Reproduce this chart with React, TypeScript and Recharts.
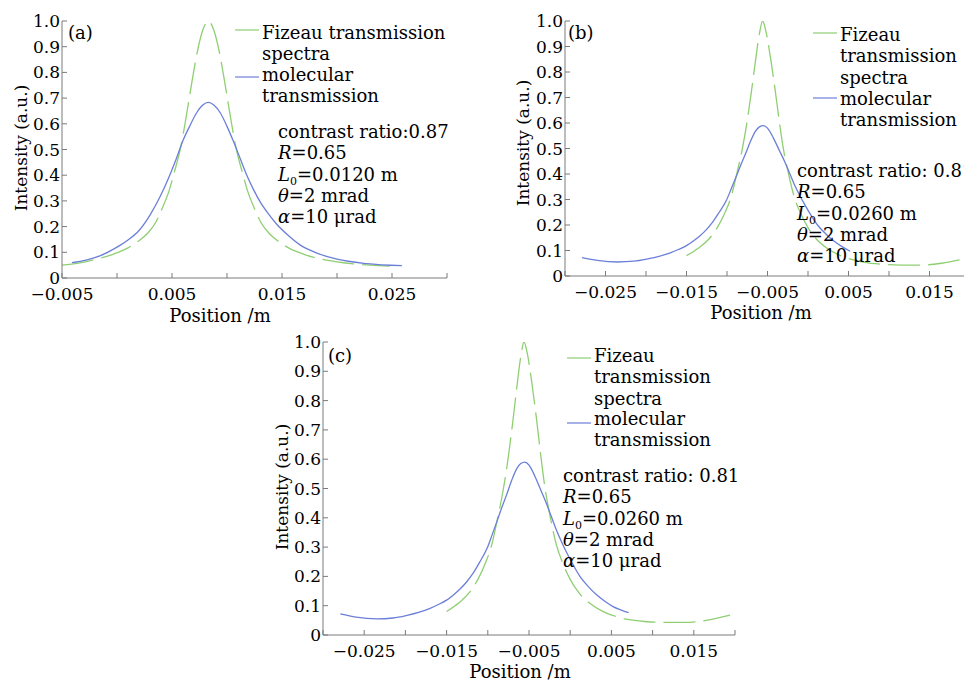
import React from 'react';
import { LineChart, Line, XAxis, YAxis, Legend } from 'recharts';

const FONT = '"DejaVu Serif", "Liberation Serif", serif';
const GREEN = '#8fcf72';
const BLUE = '#6c7fd8';
const FRAME = '#7a7a7a';
const INK = '#000';

// intensity ticks shared by all panels
const yTicks = [0, 0.1, 0.2, 0.3, 0.4, 0.5, 0.6, 0.7, 0.8, 0.9, 1.0];

// panel (a)
const xTicksA = [-0.005, 0, 0.005, 0.01, 0.015, 0.02, 0.025, 0.03];
const xLabelsA = [-0.005, 0.005, 0.015, 0.025];
const fizeauA = [
  { x: -0.005, y: 0.05 }, { x: -0.0035, y: 0.058 }, { x: -0.002, y: 0.072 }, { x: -0.0005, y: 0.09 },
  { x: 0.001, y: 0.117 }, { x: 0.002, y: 0.145 }, { x: 0.0028, y: 0.175 }, { x: 0.0035, y: 0.215 },
  { x: 0.0041, y: 0.27 }, { x: 0.0047, y: 0.335 }, { x: 0.0052, y: 0.41 }, { x: 0.0058, y: 0.51 },
  { x: 0.0063, y: 0.63 }, { x: 0.0068, y: 0.76 }, { x: 0.0073, y: 0.88 }, { x: 0.0078, y: 0.965 },
  { x: 0.0083, y: 1.0 }, { x: 0.0088, y: 0.965 }, { x: 0.0093, y: 0.88 }, { x: 0.0098, y: 0.76 },
  { x: 0.0103, y: 0.63 }, { x: 0.0108, y: 0.51 }, { x: 0.0114, y: 0.41 }, { x: 0.0119, y: 0.335 },
  { x: 0.0125, y: 0.27 }, { x: 0.0131, y: 0.215 }, { x: 0.0138, y: 0.175 }, { x: 0.0146, y: 0.145 },
  { x: 0.0156, y: 0.117 }, { x: 0.017, y: 0.092 }, { x: 0.0185, y: 0.074 }, { x: 0.02, y: 0.063 },
  { x: 0.0215, y: 0.055 }, { x: 0.023, y: 0.05 }, { x: 0.0248, y: 0.046 },
];
const molecularA = [
  { x: -0.0041, y: 0.06 }, { x: -0.0028, y: 0.07 }, { x: -0.0015, y: 0.087 }, { x: 0, y: 0.12 },
  { x: 0.001, y: 0.148 }, { x: 0.002, y: 0.185 }, { x: 0.003, y: 0.245 }, { x: 0.0039, y: 0.315 },
  { x: 0.0047, y: 0.39 }, { x: 0.0054, y: 0.465 }, { x: 0.006, y: 0.535 }, { x: 0.0066, y: 0.59 },
  { x: 0.0072, y: 0.64 }, { x: 0.0078, y: 0.673 }, { x: 0.0083, y: 0.683 }, { x: 0.0088, y: 0.673 },
  { x: 0.0094, y: 0.642 }, { x: 0.01, y: 0.59 }, { x: 0.0106, y: 0.53 }, { x: 0.0112, y: 0.465 },
  { x: 0.0118, y: 0.4 }, { x: 0.0124, y: 0.345 }, { x: 0.013, y: 0.297 }, { x: 0.0137, y: 0.253 },
  { x: 0.0145, y: 0.21 }, { x: 0.0155, y: 0.168 }, { x: 0.0166, y: 0.13 }, { x: 0.018, y: 0.1 },
  { x: 0.02, y: 0.073 }, { x: 0.0227, y: 0.056 }, { x: 0.0259, y: 0.048 },
];

// panels (b) and (c)
const xTicksBC = [-0.03, -0.025, -0.02, -0.015, -0.01, -0.005, 0, 0.005, 0.01, 0.015, 0.02];
const xLabelsBC = [-0.025, -0.015, -0.005, 0.005, 0.015];
const fizeauBC = [
  { x: -0.015, y: 0.08 }, { x: -0.0135, y: 0.11 }, { x: -0.0122, y: 0.146 }, { x: -0.0112, y: 0.19 },
  { x: -0.0103, y: 0.245 }, { x: -0.0095, y: 0.31 }, { x: -0.0088, y: 0.4 }, { x: -0.0081, y: 0.5 },
  { x: -0.0075, y: 0.61 }, { x: -0.007, y: 0.72 }, { x: -0.0065, y: 0.84 }, { x: -0.006, y: 0.95 },
  { x: -0.0056, y: 1.0 }, { x: -0.0052, y: 0.96 }, { x: -0.0047, y: 0.87 }, { x: -0.0041, y: 0.74 },
  { x: -0.0036, y: 0.62 }, { x: -0.0031, y: 0.51 }, { x: -0.0024, y: 0.4 }, { x: -0.0017, y: 0.31 },
  { x: -0.0009, y: 0.245 }, { x: 0, y: 0.19 }, { x: 0.001, y: 0.146 }, { x: 0.0023, y: 0.11 },
  { x: 0.004, y: 0.08 }, { x: 0.0055, y: 0.064 }, { x: 0.007, y: 0.053 }, { x: 0.009, y: 0.046 },
  { x: 0.0115, y: 0.043 }, { x: 0.014, y: 0.043 }, { x: 0.0165, y: 0.05 }, { x: 0.0194, y: 0.068 },
];
const molecularBC = [
  { x: -0.0279, y: 0.072 }, { x: -0.026, y: 0.061 }, { x: -0.0235, y: 0.055 }, { x: -0.0215, y: 0.058 },
  { x: -0.0198, y: 0.067 }, { x: -0.0184, y: 0.077 }, { x: -0.017, y: 0.091 }, { x: -0.016, y: 0.104 },
  { x: -0.015, y: 0.119 }, { x: -0.0142, y: 0.136 }, { x: -0.0134, y: 0.156 }, { x: -0.0126, y: 0.18 },
  { x: -0.0118, y: 0.21 }, { x: -0.011, y: 0.248 }, { x: -0.0101, y: 0.295 }, { x: -0.0095, y: 0.34 },
  { x: -0.0089, y: 0.387 }, { x: -0.0083, y: 0.435 }, { x: -0.0077, y: 0.48 }, { x: -0.0071, y: 0.528 },
  { x: -0.0065, y: 0.567 }, { x: -0.006, y: 0.585 }, { x: -0.0055, y: 0.59 }, { x: -0.005, y: 0.58 },
  { x: -0.0045, y: 0.555 }, { x: -0.0041, y: 0.53 }, { x: -0.0035, y: 0.49 }, { x: -0.0029, y: 0.45 },
  { x: -0.0023, y: 0.405 }, { x: -0.0017, y: 0.36 }, { x: -0.001, y: 0.315 }, { x: -0.0004, y: 0.28 },
  { x: 0.0004, y: 0.237 }, { x: 0.0012, y: 0.199 }, { x: 0.0022, y: 0.165 }, { x: 0.0032, y: 0.137 },
  { x: 0.0042, y: 0.115 }, { x: 0.0052, y: 0.097 }, { x: 0.0062, y: 0.085 }, { x: 0.0071, y: 0.076 },
];
// in (b) the molecular curve stops a little earlier
const molecularB = molecularBC.filter((p) => p.x <= 0.0056);

const fmtX = (v: number) => (v < 0 ? '\u2212' + Math.abs(v).toFixed(3) : v.toFixed(3));
const fmtY = (v: number) => (v === 0 ? '0' : v.toFixed(1));

const tickStyle = { fontFamily: FONT, fontSize: 17, fill: INK };
const textStyle = { fontFamily: FONT, fontSize: 18, fill: INK };

function BottomTick(props: any) {
  const { x, y, payload, labels } = props;
  const show = labels.some((v: number) => Math.abs(v - payload.value) < 1e-9);
  return (
    <g>
      <line x1={x} x2={x} y1={y} y2={y - 5} stroke={FRAME} />
      {show && (
        <text x={x} y={y + 22} textAnchor="middle" {...tickStyle}>
          {fmtX(payload.value)}
        </text>
      )}
    </g>
  );
}
function TopTick(props: any) {
  const { x, y } = props;
  return <line x1={x} x2={x} y1={y} y2={y + 5} stroke={FRAME} />;
}
function LeftTick(props: any) {
  const { x, y, payload } = props;
  return (
    <g>
      <line x1={x} x2={x + 5} y1={y} y2={y} stroke={FRAME} />
      <text x={x - 2} y={y + 6} textAnchor="end" {...tickStyle}>
        {fmtY(payload.value)}
      </text>
    </g>
  );
}
function RightTick(props: any) {
  const { x, y } = props;
  return <line x1={x} x2={x - 5} y1={y} y2={y} stroke={FRAME} />;
}

type LegendRow = { lines: string[]; sampleY: number; baseline: number };

function StackedLegend({ payload, rows }: { payload?: any[]; rows: LegendRow[] }) {
  return (
    <svg width={230} height={140} style={{ display: 'block', overflow: 'visible' }}>
      {rows.map((r, i) => (
        <g key={i}>
          <line x1={0} x2={24} y1={r.sampleY} y2={r.sampleY} stroke={payload?.[i]?.color} strokeWidth={1.2} />
          {r.lines.map((t, j) => (
            <text key={j} x={27} y={r.baseline + j * 21.3} {...textStyle}>
              {t}
            </text>
          ))}
        </g>
      ))}
    </svg>
  );
}

type PanelProps = {
  left: number;
  top: number;
  width: number;
  height: number;
  margin: { top: number; right: number; bottom: number; left: number };
  yAxisW: number;
  xDomain: [number, number];
  xTicks: number[];
  xLabels: number[];
  fizeau: { x: number; y: number }[];
  molecular: { x: number; y: number }[];
  legendLeft: number;
  legendRows: LegendRow[];
};

function Panel(p: PanelProps) {
  return (
    <div style={{ position: 'absolute', left: p.left, top: p.top }}>
      <LineChart width={p.width} height={p.height} margin={p.margin}>
        <XAxis
          xAxisId="b"
          type="number"
          dataKey="x"
          domain={p.xDomain}
          allowDataOverflow
          ticks={p.xTicks}
          interval={0}
          height={22}
          tickSize={0}
          tickMargin={0}
          tickLine={false}
          axisLine={{ stroke: FRAME }}
          tick={(t: any) => <BottomTick {...t} labels={p.xLabels} />}
        />
        <XAxis
          xAxisId="t"
          orientation="top"
          type="number"
          dataKey="x"
          domain={p.xDomain}
          allowDataOverflow
          ticks={p.xTicks}
          interval={0}
          height={0}
          tickSize={0}
          tickMargin={0}
          tickLine={false}
          axisLine={{ stroke: FRAME }}
          tick={(t: any) => <TopTick {...t} />}
        />
        <YAxis
          yAxisId="l"
          type="number"
          domain={[0, 1]}
          allowDataOverflow
          ticks={yTicks}
          interval={0}
          width={p.yAxisW}
          tickSize={0}
          tickMargin={0}
          tickLine={false}
          axisLine={{ stroke: FRAME }}
          tick={(t: any) => <LeftTick {...t} />}
        />
        <YAxis
          yAxisId="r"
          orientation="right"
          type="number"
          domain={[0, 1]}
          allowDataOverflow
          ticks={yTicks}
          interval={0}
          width={0}
          tickSize={0}
          tickMargin={0}
          tickLine={false}
          axisLine={{ stroke: FRAME }}
          tick={(t: any) => <RightTick {...t} />}
        />
        <Line
          xAxisId="t"
          yAxisId="r"
          data={p.fizeau}
          dataKey="y"
          name="Fizeau transmission spectra"
          type="monotone"
          stroke={GREEN}
          strokeWidth={1.3}
          strokeDasharray="32 8"
          dot={false}
          activeDot={false}
          isAnimationActive={false}
        />
        <Line
          xAxisId="b"
          yAxisId="l"
          data={p.molecular}
          dataKey="y"
          name="molecular transmission"
          type="monotone"
          stroke={BLUE}
          strokeWidth={1.3}
          dot={false}
          activeDot={false}
          isAnimationActive={false}
        />
        <Legend
          layout="horizontal"
          verticalAlign="middle"
          align="center"
          wrapperStyle={{ left: p.legendLeft, top: 0, width: 230, height: 140 }}
          content={(props: any) => <StackedLegend payload={props.payload} rows={p.legendRows} />}
        />
      </LineChart>
    </div>
  );
}

function Notes({ x, y, contrast, l0 }: { x: number; y: number; contrast: string; l0: string }) {
  const dy = 21.3;
  return (
    <g {...textStyle}>
      <text x={x} y={y}>{contrast}</text>
      <text x={x} y={y + dy}>
        <tspan fontStyle="italic">R</tspan>=0.65
      </text>
      <text x={x} y={y + 2 * dy}>
        <tspan fontStyle="italic">L</tspan>
        <tspan fontSize={11} dy={4}>0</tspan>
        <tspan dy={-4}>={l0} m</tspan>
      </text>
      <text x={x} y={y + 3 * dy}>
        <tspan fontStyle="italic">θ</tspan>=2 mrad
      </text>
      <text x={x} y={y + 4 * dy}>
        <tspan fontStyle="italic">α</tspan>=10 μrad
      </text>
    </g>
  );
}

function AxisTitles({ yx, yy, xx, xy }: { yx: number; yy: number; xx: number; xy: number }) {
  return (
    <g {...textStyle}>
      <text transform={`translate(${yx},${yy}) rotate(-90)`} textAnchor="middle" dominantBaseline="central" fontSize={17}>
        Intensity (a.u.)
      </text>
      <text x={xx} y={xy} textAnchor="middle">
        Position /m
      </text>
    </g>
  );
}

export default function App() {
  return (
    <div
      style={{
        position: 'absolute',
        left: 0,
        top: 0,
        width: 964,
        height: 680,
        overflow: 'hidden',
        background: '#fff',
      }}
    >
      <Panel
        left={0}
        top={0}
        width={460}
        height={330}
        margin={{ top: 21, right: 13, bottom: 30, left: 0 }}
        yAxisW={62}
        xDomain={[-0.005, 0.03]}
        xTicks={xTicksA}
        xLabels={xLabelsA}
        fizeau={fizeauA}
        molecular={molecularA}
        legendLeft={235}
        legendRows={[
          { lines: ['Fizeau transmission', 'spectra'], sampleY: 30, baseline: 39 },
          { lines: ['molecular', 'transmission'], sampleY: 77, baseline: 81 },
        ]}
      />
      <Panel
        left={500}
        top={0}
        width={480}
        height={330}
        margin={{ top: 21, right: 10, bottom: 32, left: 0 }}
        yAxisW={65}
        xDomain={[-0.03, 0.02]}
        xTicks={xTicksBC}
        xLabels={xLabelsBC}
        fizeau={fizeauBC}
        molecular={molecularB}
        legendLeft={313}
        legendRows={[
          { lines: ['Fizeau', 'transmission', 'spectra'], sampleY: 33, baseline: 41 },
          { lines: ['molecular', 'transmission'], sampleY: 98, baseline: 105 },
        ]}
      />
      <Panel
        left={260}
        top={330}
        width={490}
        height={350}
        margin={{ top: 12, right: 15, bottom: 23, left: 0 }}
        yAxisW={63}
        xDomain={[-0.03, 0.02]}
        xTicks={xTicksBC}
        xLabels={xLabelsBC}
        fizeau={fizeauBC}
        molecular={molecularBC}
        legendLeft={307}
        legendRows={[
          { lines: ['Fizeau', 'transmission', 'spectra'], sampleY: 28, baseline: 32 },
          { lines: ['molecular', 'transmission'], sampleY: 93, baseline: 95 },
        ]}
      />
      <svg
        width={964}
        height={680}
        style={{ position: 'absolute', left: 0, top: 0, pointerEvents: 'none' }}
      >
        <text x={68} y={39} {...textStyle}>(a)</text>
        <text x={568} y={39} {...textStyle}>(b)</text>
        <text x={328} y={362} {...textStyle}>(c)</text>
        <Notes x={278} y={138} contrast="contrast ratio:0.87" l0="0.0120" />
        <Notes x={797} y={177} contrast="contrast ratio: 0.81" l0="0.0260" />
        <Notes x={563} y={482} contrast="contrast ratio: 0.81" l0="0.0260" />
        <AxisTitles yx={21} yy={148} xx={220} xy={322} />
        <AxisTitles yx={523} yy={143} xx={761} xy={319} />
        <AxisTitles yx={282} yy={487} xx={520} xy={678} />
      </svg>
    </div>
  );
}
